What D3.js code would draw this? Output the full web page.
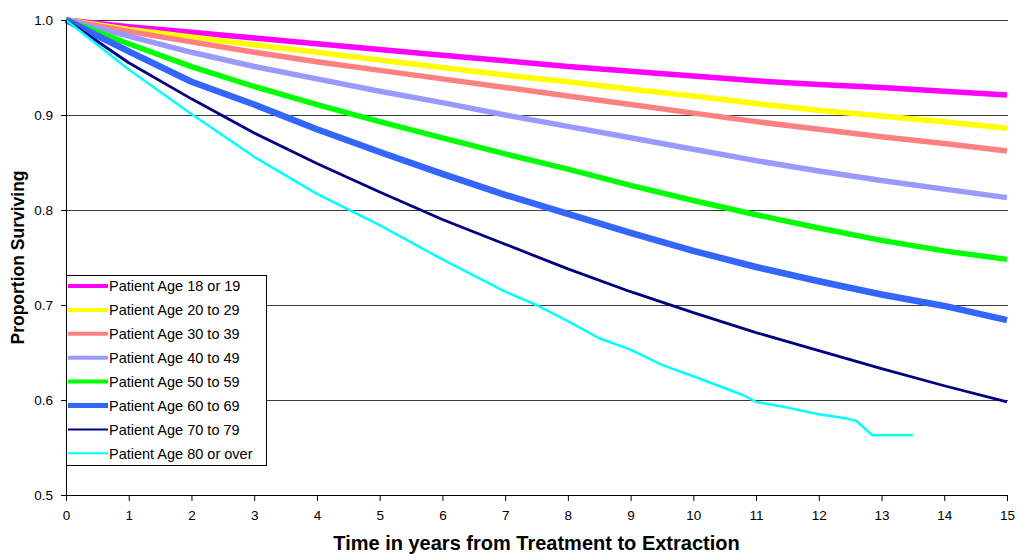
<!DOCTYPE html>
<html>
<head>
<meta charset="utf-8">
<script src="https://cdn.jsdelivr.net/npm/d3@7"></script>
<style>
  body { margin: 0; background: #fff; }
  text { font-family: Arial, "Liberation Sans", sans-serif; }
</style>
</head>
<body>
<script>
// years on the x axis (most series are read once a year)
var years = [0, 1, 2, 3, 4, 5, 6, 7, 8, 9, 10, 11, 12, 13, 14, 15];

// proportion surviving per age group
var age18to19 = [1.000, 0.993, 0.987, 0.981, 0.975, 0.969, 0.963, 0.957, 0.951, 0.946, 0.941, 0.936, 0.932, 0.929, 0.925, 0.921];
var age20to29 = [1.000, 0.990, 0.982, 0.974, 0.966, 0.958, 0.950, 0.942, 0.935, 0.927, 0.920, 0.912, 0.905, 0.899, 0.893, 0.886];
var age30to39 = [1.000, 0.988, 0.977, 0.966, 0.956, 0.947, 0.938, 0.929, 0.920, 0.911, 0.902, 0.893, 0.885, 0.877, 0.870, 0.862];
var age40to49 = [1.000, 0.983, 0.966, 0.951, 0.938, 0.925, 0.913, 0.900, 0.888, 0.876, 0.864, 0.852, 0.841, 0.831, 0.822, 0.813];
var age50to59 = [1.000, 0.975, 0.951, 0.930, 0.911, 0.893, 0.876, 0.859, 0.843, 0.826, 0.810, 0.795, 0.781, 0.768, 0.757, 0.748];
var age60to69 = [1.000, 0.967, 0.935, 0.911, 0.885, 0.861, 0.838, 0.816, 0.796, 0.776, 0.757, 0.740, 0.725, 0.711, 0.699, 0.684];
var age70to79 = [1.000, 0.955, 0.917, 0.881, 0.849, 0.819, 0.790, 0.764, 0.738, 0.714, 0.692, 0.671, 0.652, 0.633, 0.615, 0.598];

// the oldest group stops early and is steppier, so it gets its own times
var over80Years = [0, 1, 2, 3, 4, 5, 6, 7, 7.5, 8, 8.5, 9, 9.5, 10, 10.4, 10.8, 11, 11.5, 12, 12.4, 12.6, 12.75, 12.85, 13.5];
var age80plus = [1.000, 0.948, 0.901, 0.856, 0.817, 0.784, 0.748, 0.714, 0.700, 0.683, 0.665, 0.653, 0.637, 0.625, 0.615, 0.605, 0.598, 0.592, 0.585, 0.581, 0.578, 0.569, 0.563, 0.563];

var seriesNames = ['Patient Age 18 or 19', 'Patient Age 20 to 29', 'Patient Age 30 to 39', 'Patient Age 40 to 49',
                   'Patient Age 50 to 59', 'Patient Age 60 to 69', 'Patient Age 70 to 79', 'Patient Age 80 or over'];

var yTicks = [0.5, 0.6, 0.7, 0.8, 0.9, 1.0];
var xTicks = years;

// looks of each line
var colors = ['#ff00ff', '#ffff00', '#ff8080', '#9999ff', '#00ff00', '#3366ff', '#000080', '#00ffff'];
var lineWidths = [5.5, 5.5, 5.5, 5.5, 5.5, 6.5, 2.8, 2.5];
var legendWidths = [4, 4, 4, 4, 4, 5, 2, 2];

// pair up times and values for each series
var allValues = [age18to19, age20to29, age30to39, age40to49, age50to59, age60to69, age70to79, age80plus];
var series = allValues.map(function(vals, i) {
    var t = (i === 7) ? over80Years : years;
    return {
        name: seriesNames[i],
        points: vals.map(function(v, j) { return { t: t[j], v: v }; })
    };
});

var margin = { top: 20, right: 12, bottom: 59, left: 66 };
var totalW = 1020, totalH = 554;
var width = 941;
var height = 475;

var svg = d3.select('body').append('svg')
    .attr('width', totalW)
    .attr('height', totalH);

var g = svg.append('g')
    .attr('transform', 'translate(' + margin.left + ',' + margin.top + ')');

var x = d3.scaleLinear().domain([0, 15]).range([0, width]);
var y = d3.scaleLinear().domain([0.5, 1.0]).range([height, 0]);

// horizontal grid lines
g.append('g')
    .selectAll('line')
    .data(yTicks.filter(function(d) { return d > 0.5; }))
    .enter().append('line')
    .attr('x1', 0.5)
    .attr('x2', width + 1)
    .attr('y1', function(d) { return Math.round(y(d)) + 0.5; })
    .attr('y2', function(d) { return Math.round(y(d)) + 0.5; })
    .attr('stroke', '#3a3a3a')
    .attr('stroke-width', 1);

// the survival curves
var line = d3.line()
    .x(function(d) { return x(d.t); })
    .y(function(d) { return y(d.v); });

g.selectAll('.curve')
    .data(series)
    .enter().append('path')
    .attr('class', 'curve')
    .attr('d', function(d) { return line(d.points); })
    .attr('fill', 'none')
    .attr('stroke', function(d, i) { return colors[i]; })
    .attr('stroke-width', function(d, i) { return lineWidths[i]; })
    .attr('stroke-linejoin', 'round');

// axes
var xAxis = d3.axisBottom(x).tickValues(xTicks).tickFormat(d3.format('d')).tickSizeOuter(0).tickSize(6).tickPadding(9);
var yAxis = d3.axisLeft(y).tickValues(yTicks).tickFormat(d3.format('.1f')).tickSizeOuter(0).tickSize(5).tickPadding(8);

var gx = g.append('g')
    .attr('transform', 'translate(0,' + height + ')')
    .call(xAxis);
var gy = g.append('g').call(yAxis);

[gx, gy].forEach(function(a) {
    a.selectAll('path, line').attr('stroke', '#000');
    a.selectAll('text').style('font-size', '13.5px').attr('fill', '#000');
});

// legend box, sitting on the y axis
var legend = g.append('g').attr('transform', 'translate(0,' + 255 + ')');
legend.append('rect')
    .attr('x', 0.5)
    .attr('y', 0.5)
    .attr('width', 200)
    .attr('height', 190)
    .attr('fill', '#fff')
    .attr('stroke', '#000');

var rows = legend.selectAll('.row')
    .data(series)
    .enter().append('g')
    .attr('class', 'row')
    .attr('transform', function(d, i) { return 'translate(0,' + (11 + i * 23.9) + ')'; });

rows.append('line')
    .attr('x1', 2)
    .attr('x2', 42)
    .attr('stroke', function(d, i) { return colors[i]; })
    .attr('stroke-width', function(d, i) { return legendWidths[i]; });

rows.append('text')
    .attr('x', 43)
    .attr('dy', '0.36em')
    .style('font-size', '14.5px')
    .attr('fill', '#000')
    .text(function(d) { return d.name; });

// axis titles
svg.append('text')
    .attr('x', margin.left + width / 2)
    .attr('y', 550)
    .attr('text-anchor', 'middle')
    .style('font-size', '20px')
    .style('font-weight', 'bold')
    .text('Time in years from Treatment to Extraction');

svg.append('text')
    .attr('transform', 'translate(24,' + (margin.top + height / 2) + ') rotate(-90)')
    .attr('text-anchor', 'middle')
    .style('font-size', '17.5px')
    .style('font-weight', 'bold')
    .text('Proportion Surviving');
</script>
</body>
</html>
